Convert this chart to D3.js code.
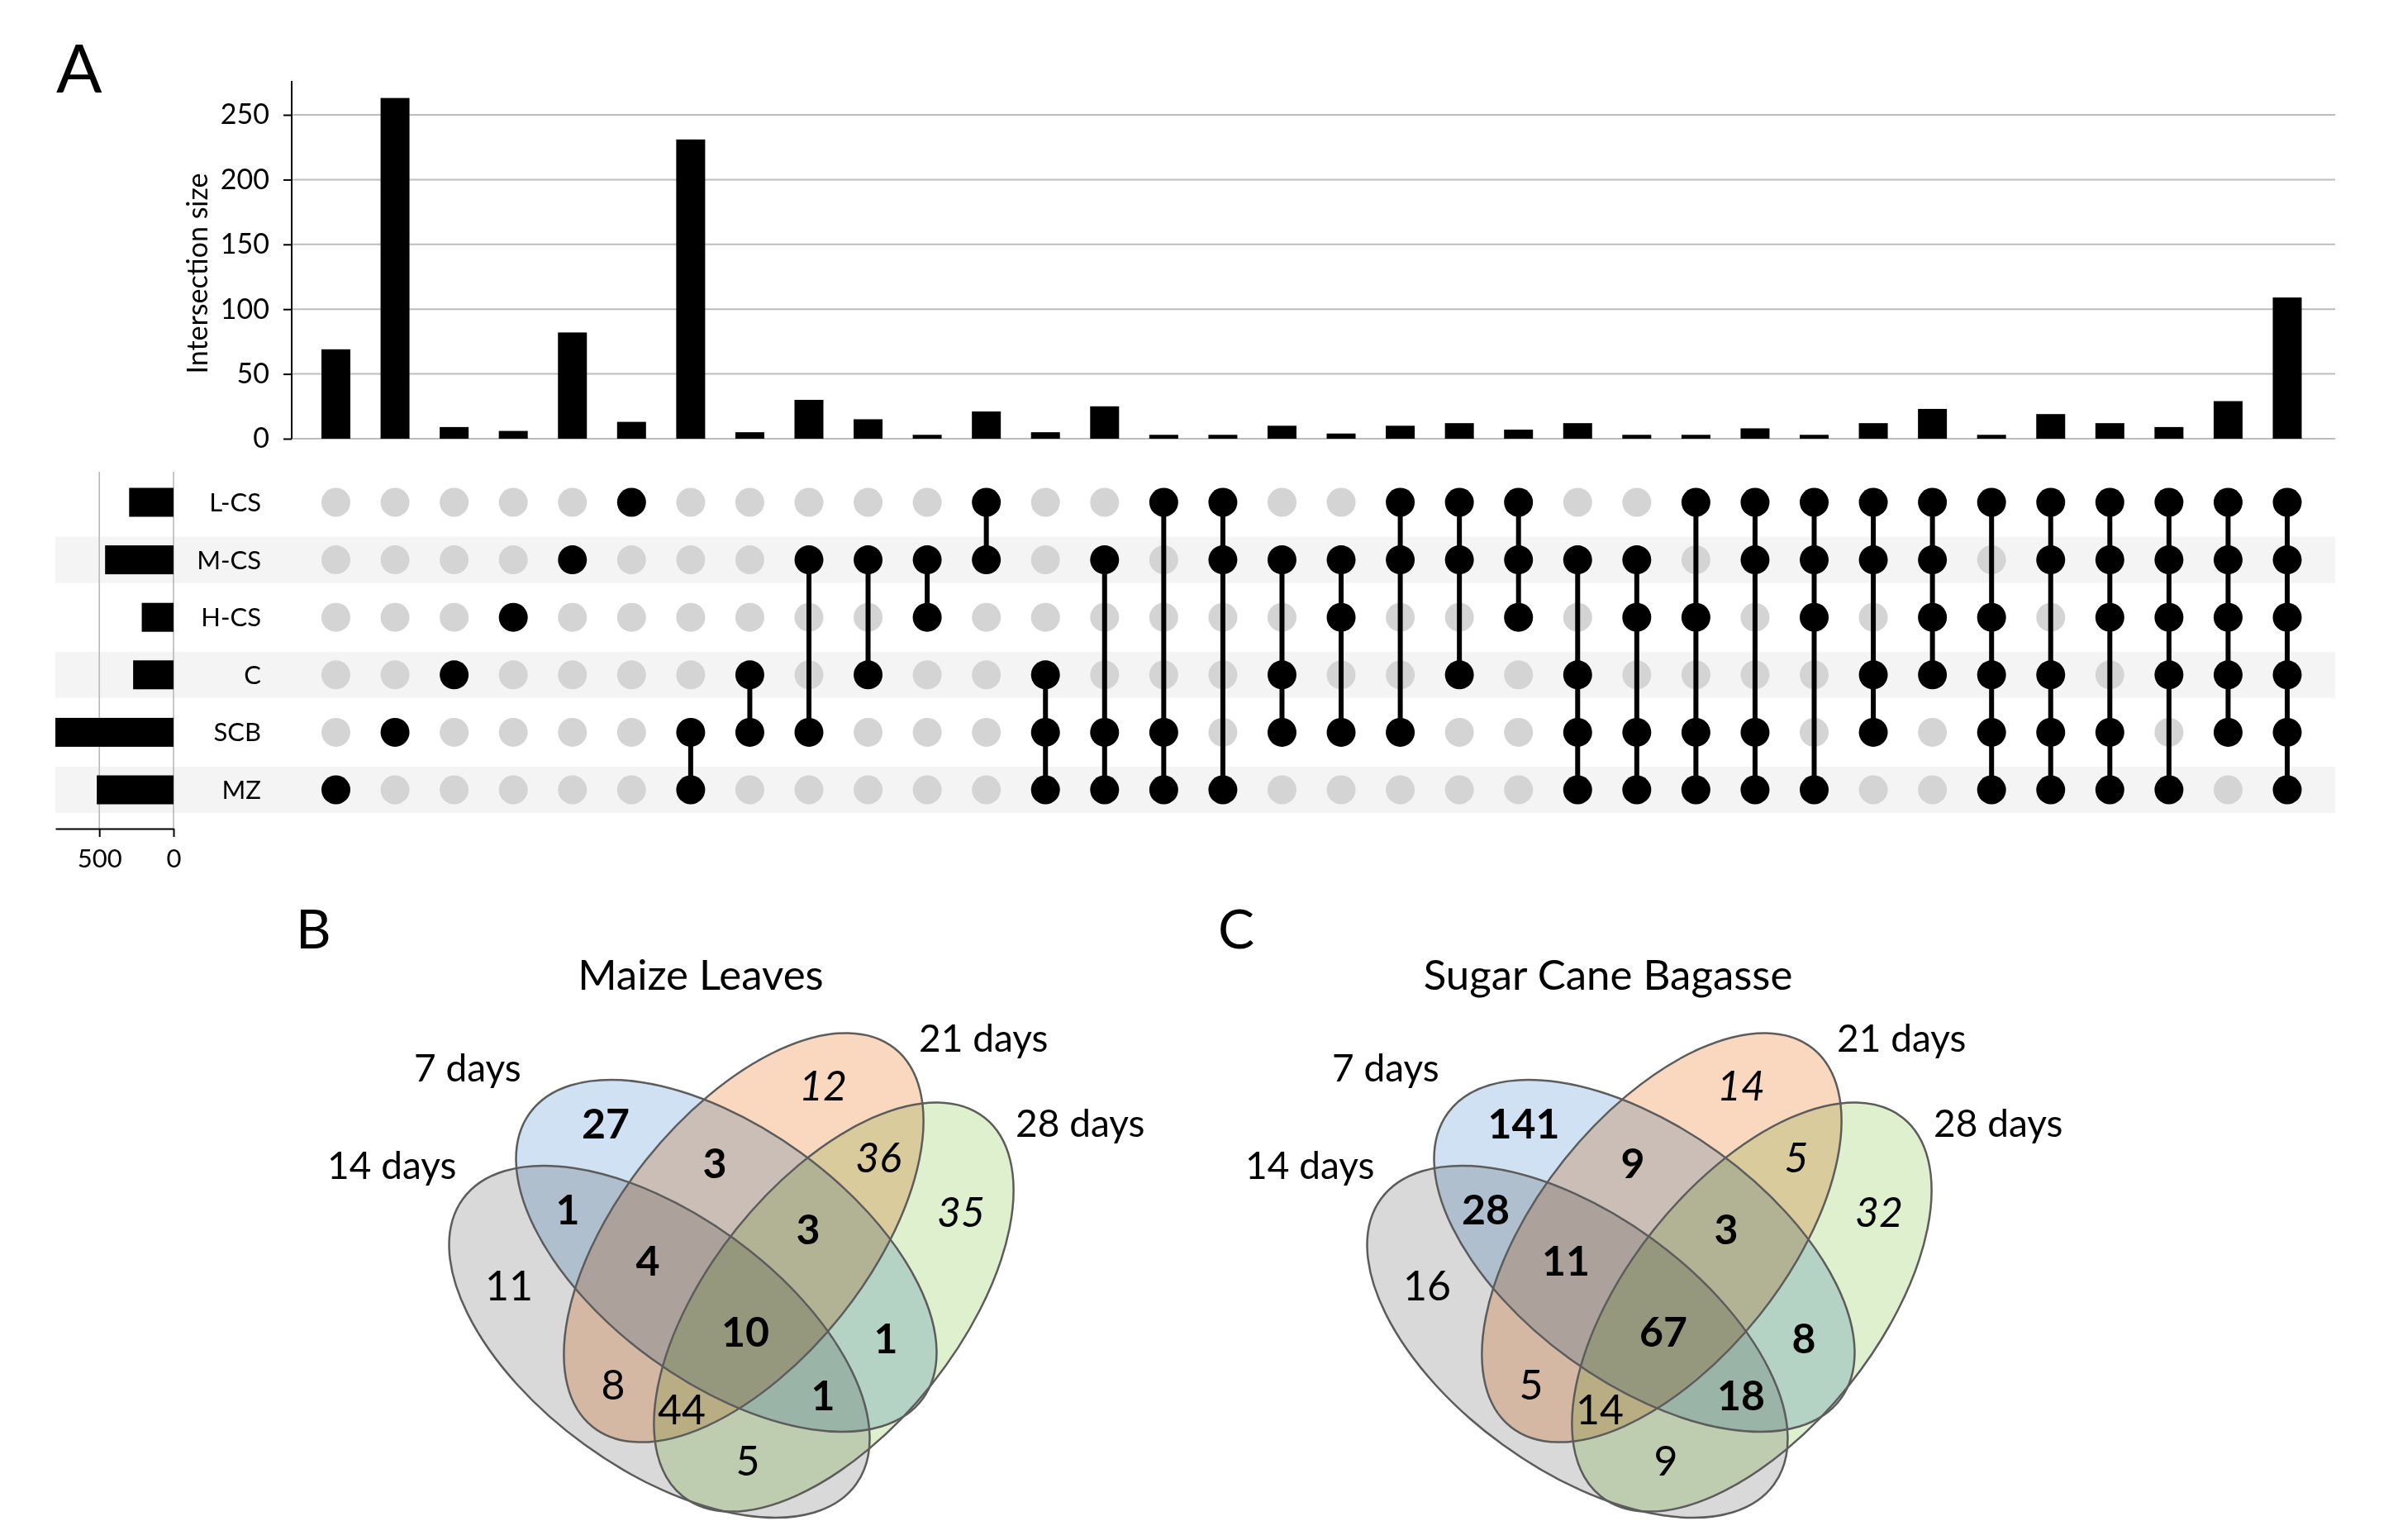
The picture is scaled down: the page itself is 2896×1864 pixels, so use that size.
<!DOCTYPE html>
<html>
<head>
<meta charset="utf-8">
<script src="https://cdn.jsdelivr.net/npm/d3@7"></script>
<style>
	html, body { margin: 0; padding: 0; background: #fff; }
	text { font-family: Lato, "Open Sans", sans-serif; fill: #000; }
</style>
</head>
<body>
<div id="container"></div>
<script>
// ---- data: UpSet (panel A) ----
const sets = ["L-CS", "M-CS", "H-CS", "C", "SCB", "MZ"];
const setSizes = [299, 461, 214, 272, 796, 517];
const intersections = [
	["MZ"], ["SCB"], ["C"], ["H-CS"], ["M-CS"], ["L-CS"],
	["SCB", "MZ"], ["C", "SCB"], ["M-CS", "SCB"], ["M-CS", "C"], ["M-CS", "H-CS"], ["L-CS", "M-CS"],
	["C", "SCB", "MZ"], ["M-CS", "SCB", "MZ"], ["L-CS", "SCB", "MZ"], ["L-CS", "M-CS", "MZ"],
	["M-CS", "C", "SCB"], ["M-CS", "H-CS", "SCB"], ["L-CS", "M-CS", "SCB"], ["L-CS", "M-CS", "C"],
	["L-CS", "M-CS", "H-CS"], ["M-CS", "C", "SCB", "MZ"], ["M-CS", "H-CS", "SCB", "MZ"],
	["L-CS", "H-CS", "SCB", "MZ"], ["L-CS", "M-CS", "SCB", "MZ"], ["L-CS", "M-CS", "H-CS", "MZ"],
	["L-CS", "M-CS", "C", "SCB"], ["L-CS", "M-CS", "H-CS", "C"], ["L-CS", "H-CS", "C", "SCB", "MZ"],
	["L-CS", "M-CS", "C", "SCB", "MZ"], ["L-CS", "M-CS", "H-CS", "SCB", "MZ"],
	["L-CS", "M-CS", "H-CS", "C", "MZ"], ["L-CS", "M-CS", "H-CS", "C", "SCB"],
	["L-CS", "M-CS", "H-CS", "C", "SCB", "MZ"]
];
const intersectionSizes = [69, 263, 9, 6, 82, 13, 231, 5, 30, 15, 3, 21, 5, 25, 3, 3, 10, 4, 10, 12,
	7, 12, 3, 3, 8, 3, 12, 23, 3, 19, 12, 9, 29, 109];
const sizeTicks = [0, 50, 100, 150, 200, 250];
const setSizeTicks = [500, 0];

// ---- data: Venn diagrams (panels B, C) ----
const vennSets = ["14 days", "7 days", "21 days", "28 days"];
const vennRegions = ["7", "21", "7&21", "21&28", "7&14", "7&21&28", "28", "7&14&21", "14",
	"7&14&21&28", "7&28", "14&21", "14&21&28", "7&14&28", "14&28"];
const maizeCounts = [27, 12, 3, 36, 1, 3, 35, 4, 11, 10, 1, 8, 44, 1, 5];
const sugarCaneCounts = [141, 14, 9, 5, 28, 3, 32, 11, 16, 67, 8, 5, 14, 18, 9];

// ---- layout ----
const W = 2896, H = 1864;
const svg = d3.select("#container").append("svg")
	.attr("width", W).attr("height", H)
	.style("background", "#fff");
svg.append("rect").attr("width", W).attr("height", H).attr("fill", "#fff");

// panel A
const plotLeft = 353, plotRight = 2826;
const barTop = 98, barBottom = 531;
const barW = 35, dotR = 17.5;

const x = d3.scalePoint().domain(d3.range(intersections.length)).range([406.5, 2768]);
const y = d3.scaleLinear()
	.domain([0, d3.max(intersectionSizes) * 1.05])
	.range([barBottom, barTop]);
const row = d3.scalePoint().domain(sets).range([608, 956]);
const sx = d3.scaleLinear().domain([0, d3.max(setSizes)]).range([210, 67]);

svg.append("text")
	.attr("x", 68).attr("y", 112)
	.style("font-size", "82px")
	.text("A");

// grid lines
svg.append("g").selectAll("line")
	.data(sizeTicks).join("line")
	.attr("x1", plotLeft).attr("x2", plotRight)
	.attr("y1", d => y(d)).attr("y2", d => y(d))
	.attr("stroke", "#bdbdbd").attr("stroke-width", 2);

// intersection bars
svg.append("g").selectAll("rect")
	.data(intersectionSizes).join("rect")
	.attr("x", (d, i) => x(i) - barW / 2)
	.attr("y", d => y(d))
	.attr("width", barW)
	.attr("height", d => y(0) - y(d))
	.attr("fill", "#000");

// y axis
const yAxis = svg.append("g")
	.attr("transform", `translate(${plotLeft},0)`)
	.call(d3.axisLeft(y).tickValues(sizeTicks).tickSize(10).tickSizeOuter(0).tickPadding(17));
yAxis.select(".domain").attr("stroke", "#000").attr("stroke-width", 2)
	.attr("d", `M0,${barTop}V${barBottom}`);
yAxis.selectAll(".tick line").attr("stroke", "#000").attr("stroke-width", 2);
yAxis.selectAll(".tick text").style("font-size", "34px").style("font-family", "Lato");

svg.append("text")
	.attr("transform", `translate(251,331) rotate(-90)`)
	.attr("text-anchor", "middle")
	.style("font-size", "34px")
	.text("Intersection size");

// matrix shading
svg.append("g").selectAll("rect")
	.data(sets.filter((s, i) => i % 2 === 1)).join("rect")
	.attr("x", 67).attr("width", plotRight - 67)
	.attr("y", d => row(d) - 28).attr("height", 56)
	.attr("fill", "#f4f4f4");

// set size grid + bars
svg.append("g").selectAll("line")
	.data(setSizeTicks).join("line")
	.attr("x1", d => sx(d)).attr("x2", d => sx(d))
	.attr("y1", 571).attr("y2", 1003)
	.attr("stroke", "#b5b5b5").attr("stroke-width", 1.5);

svg.append("g").selectAll("rect")
	.data(sets).join("rect")
	.attr("x", (d, i) => sx(setSizes[i]))
	.attr("width", (d, i) => sx(0) - sx(setSizes[i]))
	.attr("y", d => row(d) - 17.5).attr("height", 35)
	.attr("fill", "#000");

const sAxis = svg.append("g")
	.attr("transform", "translate(0,1003)")
	.call(d3.axisBottom(sx).tickValues(setSizeTicks).tickSize(10).tickSizeOuter(0).tickPadding(15));
sAxis.select(".domain").attr("stroke", "#000").attr("stroke-width", 2);
sAxis.selectAll(".tick line").attr("stroke", "#000").attr("stroke-width", 2);
sAxis.selectAll(".tick text").style("font-size", "31px").style("font-family", "Lato");

// set labels
svg.append("g").selectAll("text")
	.data(sets).join("text")
	.attr("x", 316).attr("y", d => row(d) + 11)
	.attr("text-anchor", "end")
	.style("font-size", "31px")
	.text(d => d);

// dots + connectors
const cells = [];
intersections.forEach((members, i) => {
	sets.forEach(s => cells.push({ i, s, on: members.includes(s) }));
});
svg.append("g").selectAll("circle")
	.data(cells.filter(c => !c.on)).join("circle")
	.attr("cx", d => x(d.i)).attr("cy", d => row(d.s)).attr("r", dotR)
	.attr("fill", "#d4d4d4");

svg.append("g").selectAll("line")
	.data(intersections.filter(m => m.length > 1).map(m => intersections.indexOf(m)))
	.join("line")
	.attr("x1", i => x(i)).attr("x2", i => x(i))
	.attr("y1", i => d3.min(intersections[i], s => row(s)))
	.attr("y2", i => d3.max(intersections[i], s => row(s)))
	.attr("stroke", "#000").attr("stroke-width", 6);

svg.append("g").selectAll("circle")
	.data(cells.filter(c => c.on)).join("circle")
	.attr("cx", d => x(d.i)).attr("cy", d => row(d.s)).attr("r", dotR)
	.attr("fill", "#000");

// ---- Venn panels ----
const ellipses = [
	{ set: "14 days", cx: 798, cy: 1624, rx: 294, ry: 154, rot: 36, fill: "#d9d9d9" },
	{ set: "7 days", cx: 879, cy: 1520, rx: 294, ry: 154, rot: 36, fill: "#cfe1f2" },
	{ set: "21 days", cx: 900, cy: 1498, rx: 293, ry: 151, rot: -51.4, fill: "#fad8c0" },
	{ set: "28 days", cx: 1009, cy: 1582, rx: 293, ry: 151, rot: -51.4, fill: "#dff0cf" }
];
const setLabelPos = {
	"7 days": [501, 1309], "14 days": [396, 1427], "21 days": [1112, 1273], "28 days": [1229, 1376]
};
const regionPos = {
	"7": [733, 1360], "21": [996, 1314], "7&21": [865, 1408], "21&28": [1063, 1401],
	"7&14": [687, 1464], "7&21&28": [978, 1488], "28": [1163, 1467], "7&14&21": [784, 1526],
	"14": [616, 1556], "7&14&21&28": [902, 1612], "7&28": [1072, 1620], "14&21": [742, 1676],
	"14&21&28": [825, 1706], "7&14&28": [996, 1689], "14&28": [905, 1768]
};

const panels = [
	{ letter: "B", title: "Maize Leaves", titleX: 848, dx: 0, counts: maizeCounts },
	{ letter: "C", title: "Sugar Cane Bagasse", titleX: 1946, dx: 1111, counts: sugarCaneCounts }
];

panels.forEach(p => {
	const g = svg.append("g");
	g.append("text")
		.attr("x", 358 + p.dx + (p.dx ? 5 : 0)).attr("y", 1148)
		.style("font-size", "66px")
		.text(p.letter);
	g.append("text")
		.attr("x", p.titleX).attr("y", 1198)
		.attr("text-anchor", "middle")
		.style("font-size", "51px")
		.text(p.title);

	const vg = g.append("g").attr("transform", `translate(${p.dx},0)`);
	const fills = vg.append("g");
	fills.selectAll("ellipse")
		.data(ellipses).join("ellipse")
		.attr("cx", d => d.cx).attr("cy", d => d.cy)
		.attr("rx", d => d.rx).attr("ry", d => d.ry)
		.attr("transform", d => `rotate(${d.rot},${d.cx},${d.cy})`)
		.attr("fill", d => d.fill)
		.style("mix-blend-mode", "multiply");
	vg.selectAll("ellipse.edge")
		.data(ellipses).join("ellipse")
		.attr("class", "edge")
		.attr("cx", d => d.cx).attr("cy", d => d.cy)
		.attr("rx", d => d.rx).attr("ry", d => d.ry)
		.attr("transform", d => `rotate(${d.rot},${d.cx},${d.cy})`)
		.attr("fill", "none").attr("stroke", "#5c5c5c").attr("stroke-width", 2.5);

	vg.selectAll("text.setname")
		.data(vennSets).join("text")
		.attr("class", "setname")
		.attr("x", d => setLabelPos[d][0]).attr("y", d => setLabelPos[d][1])
		.style("font-size", "46px")
		.text(d => d);

	vg.selectAll("text.count")
		.data(vennRegions).join("text")
		.attr("class", "count")
		.attr("x", d => regionPos[d][0])
		.attr("y", d => regionPos[d][1] + 18)
		.attr("text-anchor", "middle")
		.style("font-size", "50px")
		.style("font-weight", d => d.split("&").includes("7") ? "bold" : "normal")
		.style("font-style", d => {
			const k = d.split("&");
			return (!k.includes("7") && !k.includes("14")) ? "italic" : "normal";
		})
		.text((d, i) => p.counts[i]);
});
</script>
</body>
</html>
